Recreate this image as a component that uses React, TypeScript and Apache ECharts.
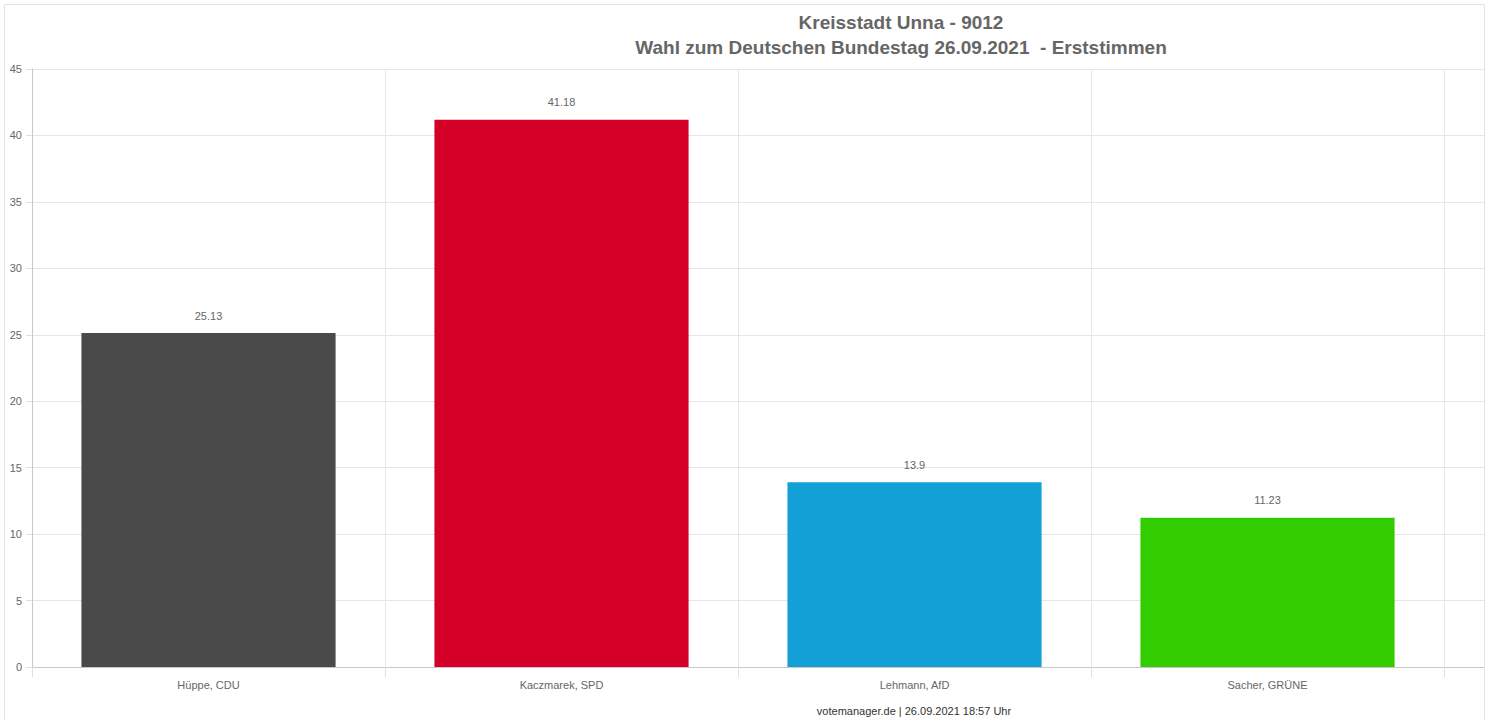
import React, { useEffect, useRef } from "react";
import * as echarts from "echarts";

const categories = ["Hüppe, CDU", "Kaczmarek, SPD", "Lehmann, AfD", "Sacher, GRÜNE"];
const values = [25.13, 41.18, 13.9, 11.23];
const barColors = ["#4a4a4a", "#d50027", "#12a0d7", "#33cc00"];
const titleLines = ["Kreisstadt Unna - 9012", "Wahl zum Deutschen Bundestag 26.09.2021  - Erststimmen"];
const footer = "votemanager.de | 26.09.2021 18:57 Uhr";

export default function App() {
  const ref = useRef<HTMLDivElement>(null);
  useEffect(() => {
    if (!ref.current) return;
    const chart = echarts.init(ref.current, undefined, { renderer: "svg" });
    const font = "Arial, 'Liberation Sans', sans-serif";
    chart.setOption({
      animation: false,
      backgroundColor: "#ffffff",
      textStyle: { fontFamily: font },
      graphic: [
        {
          type: "rect",
          shape: { x: 4.5, y: 4.5, width: 1480, height: 730 },
          style: { fill: "none", stroke: "#e3e3e3", lineWidth: 1 },
          z: -1,
        },
        {
          type: "text",
          x: 901,
          y: 22,
          style: {
            text: titleLines[0],
            font: `bold 19px ${font}`,
            fill: "#666666",
            textAlign: "center",
            textVerticalAlign: "middle",
          },
        },
        {
          type: "text",
          x: 901,
          y: 47,
          style: {
            text: titleLines[1],
            font: `bold 19px ${font}`,
            fill: "#666666",
            textAlign: "center",
            textVerticalAlign: "middle",
          },
        },
        {
          type: "text",
          x: 914,
          y: 711,
          style: {
            text: footer,
            font: `11px ${font}`,
            fill: "#333333",
            textAlign: "center",
            textVerticalAlign: "middle",
          },
        },
      ],
      grid: [
        { left: 32, right: 48, top: 69, bottom: 53 },
        { left: 32, right: 8, top: 69, bottom: 53 },
      ],
      xAxis: [
        {
          type: "category",
          gridIndex: 0,
          data: categories,
          boundaryGap: true,
          axisLine: { show: false },
          axisTick: { show: true, length: 10, lineStyle: { color: "#e0e0e0" } },
          axisLabel: { color: "#666666", fontSize: 11, margin: 12 },
          splitLine: { show: true, lineStyle: { color: "#e6e6e6" } },
        },
        {
          type: "value",
          gridIndex: 1,
          min: 0,
          max: 1,
          axisLine: { show: true, lineStyle: { color: "#c8c8c8" } },
          axisTick: { show: false },
          axisLabel: { show: false },
          splitLine: { show: false },
        },
      ],
      yAxis: [
        {
          type: "value",
          gridIndex: 0,
          min: 0,
          max: 45,
          interval: 5,
          show: false,
          splitLine: { show: false },
        },
        {
          type: "value",
          gridIndex: 1,
          min: 0,
          max: 45,
          interval: 5,
          axisLine: { show: true, lineStyle: { color: "#c8c8c8" } },
          axisTick: { show: true, length: 6, lineStyle: { color: "#e0e0e0" } },
          axisLabel: { color: "#666666", fontSize: 11, margin: 10 },
          splitLine: { show: true, lineStyle: { color: "#e6e6e6" } },
        },
      ],
      series: [
        {
          type: "bar",
          xAxisIndex: 0,
          yAxisIndex: 0,
          barWidth: "72%",
          data: values.map((v, i) => ({ value: v, itemStyle: { color: barColors[i] } })),
          label: {
            show: true,
            position: "top",
            distance: 12,
            color: "#666666",
            fontSize: 11,
          },
        },
      ],
    });
    return () => chart.dispose();
  }, []);
  return (
    <div
      ref={ref}
      style={{ position: "absolute", left: 0, top: 0, width: 1492, height: 720 }}
    />
  );
}
